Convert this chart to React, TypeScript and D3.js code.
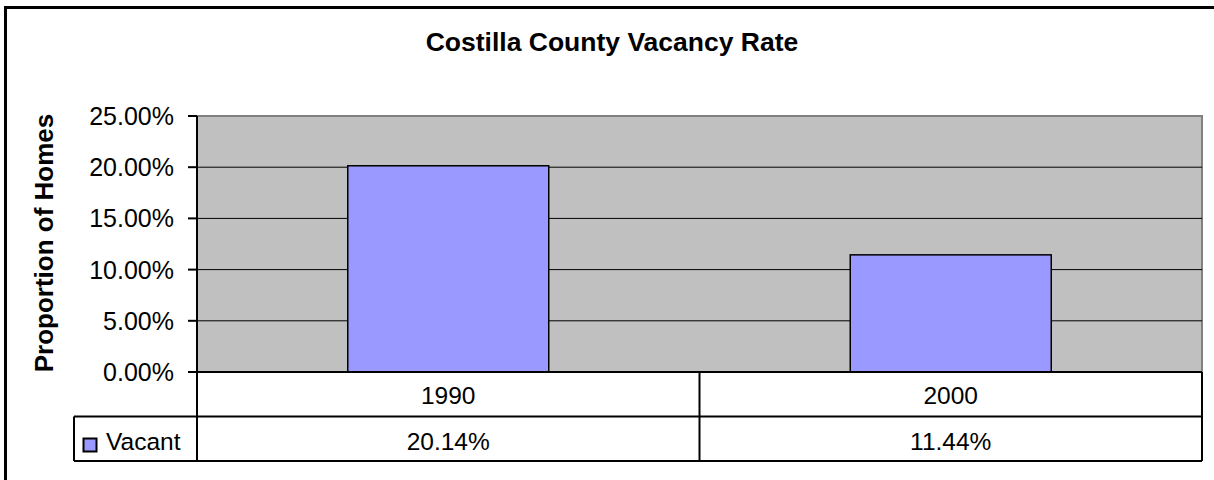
import React from 'react';
import * as d3 from 'd3';

const title = 'Costilla County Vacancy Rate';
const yLabel = 'Proportion of Homes';
const seriesName = 'Vacant';
const years = ['1990', '2000'];
const vacant = [0.2014, 0.1144];
const yTicks = [0, 0.05, 0.1, 0.15, 0.2, 0.25];

const W = 1214;
const H = 480;
const plot = { left: 197, right: 1202, top: 116, bottom: 372 };
const rowH = 44.5;
const legendLeft = 74;
const font = '"Liberation Sans", Arial, sans-serif';

export default function App() {
  const x = d3
    .scaleBand<string>()
    .domain(years)
    .range([plot.left, plot.right])
    .paddingInner(0.6)
    .paddingOuter(0.3);
  const col = d3.scaleBand<string>().domain(years).range([plot.left, plot.right]);
  const y = d3.scaleLinear().domain([0, 0.25]).range([plot.bottom, plot.top]);
  const pct = d3.format('.2%');

  const row1 = plot.bottom + rowH;
  const row2 = row1 + rowH;

  return (
    <svg
      width={W}
      height={H}
      style={{ position: 'absolute', left: 0, top: 0, background: '#fff' }}
      fontFamily={font}
    >
      {/* outer chart frame, clipped on right and bottom */}
      <rect x={5.5} y={7.5} width={1230} height={500} fill="#fff" stroke="#000" strokeWidth={3} />

      <text x={612} y={51} textAnchor="middle" fontSize={26.5} fontWeight="bold">
        {title}
      </text>

      {/* plot area */}
      <rect
        x={plot.left}
        y={plot.top}
        width={plot.right - plot.left}
        height={plot.bottom - plot.top}
        fill="#C0C0C0"
        stroke="#808080"
        strokeWidth={2}
      />

      {yTicks.slice(1, -1).map((t) => (
        <line key={t} x1={plot.left} x2={plot.right} y1={y(t)} y2={y(t)} stroke="#000" strokeWidth={1} />
      ))}

      {years.map((yr, i) => (
        <rect
          key={yr}
          x={x(yr)}
          y={y(vacant[i])}
          width={x.bandwidth()}
          height={y(0) - y(vacant[i])}
          fill="#9999FF"
          stroke="#000"
          strokeWidth={1.5}
        />
      ))}

      {/* y axis */}
      <line x1={plot.left} x2={plot.left} y1={plot.top} y2={row2} stroke="#000" strokeWidth={2} />
      {yTicks.map((t) => (
        <g key={t}>
          <line x1={plot.left - 9} x2={plot.left} y1={y(t)} y2={y(t)} stroke="#000" strokeWidth={2} />
          <text x={174} y={y(t)} dy="0.36em" textAnchor="end" fontSize={25}>
            {pct(t)}
          </text>
        </g>
      ))}

      <text
        transform={`translate(53, ${(plot.top + plot.bottom) / 2 - 1}) rotate(-90)`}
        textAnchor="middle"
        fontSize={26}
        fontWeight="bold"
      >
        {yLabel}
      </text>

      {/* data table */}
      <line x1={plot.left} x2={plot.right} y1={plot.bottom} y2={plot.bottom} stroke="#000" strokeWidth={2} />
      <line x1={legendLeft} x2={plot.right} y1={row1} y2={row1} stroke="#000" strokeWidth={2} />
      <line x1={legendLeft} x2={plot.right} y1={row2} y2={row2} stroke="#000" strokeWidth={2} />
      <line x1={legendLeft} x2={legendLeft} y1={row1} y2={row2} stroke="#000" strokeWidth={2} />
      <line x1={plot.right} x2={plot.right} y1={plot.bottom} y2={row2} stroke="#000" strokeWidth={2} />
      {years.slice(1).map((yr) => (
        <line key={yr} x1={col(yr)} x2={col(yr)} y1={plot.bottom} y2={row2} stroke="#000" strokeWidth={2} />
      ))}
      {years.map((yr, i) => (
        <g key={yr}>
          <text x={col(yr)! + col.bandwidth() / 2} y={plot.bottom + rowH / 2} dy="0.4em" textAnchor="middle" fontSize={24.5}>
            {yr}
          </text>
          <text x={col(yr)! + col.bandwidth() / 2} y={row1 + rowH / 2} dy="0.45em" textAnchor="middle" fontSize={24.5}>
            {pct(vacant[i])}
          </text>
        </g>
      ))}
      <rect x={83.5} y={438.5} width={13} height={13} fill="#9999FF" stroke="#000" strokeWidth={2} />
      <text x={106} y={row1 + rowH / 2} dy="0.45em" fontSize={24.5}>
        {seriesName}
      </text>
    </svg>
  );
}
